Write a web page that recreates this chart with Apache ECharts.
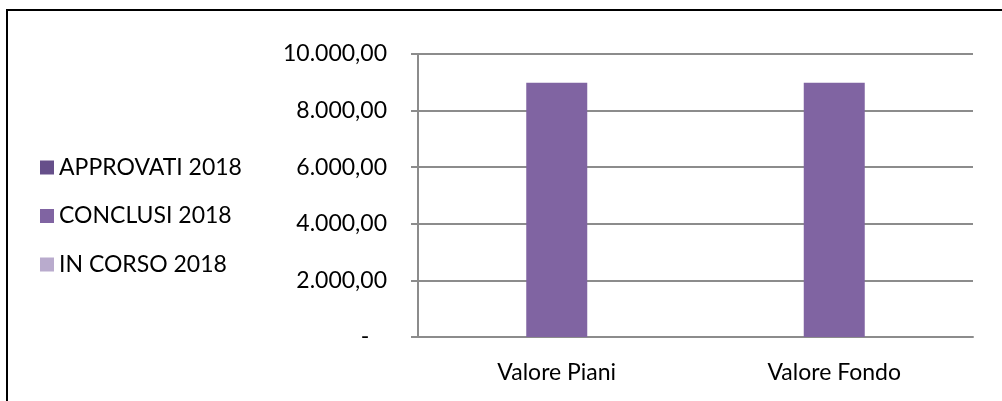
<!doctype html>
<html>
<head>
<meta charset="utf-8">
<script src="https://cdn.jsdelivr.net/npm/echarts@6/dist/echarts.min.js"></script>
<style>
    html, body { margin: 0; padding: 0; background: #fff; }
    #chart { width: 1002px; height: 401px; }
</style>
</head>
<body>
<div id="chart"></div>
<script>
// dati
var categorie = ['Valore Piani', 'Valore Fondo'];
var nomiSerie = ['APPROVATI 2018', 'CONCLUSI 2018', 'IN CORSO 2018'];
var approvati = [null, null];
var conclusi = [8980, 8980];
var inCorso = [null, null];
var colori = ['#664f8a', '#8064a2', '#b9abcd'];

function formatIt(v) {
    if (v === 0) return '-   ';
    var s = v.toFixed(2).split('.');
    var intero = s[0].replace(/\B(?=(\d{3})+(?!\d))/g, '.');
    return intero + ',' + s[1];
}

var myChart = echarts.init(document.getElementById('chart'));

var valori = [approvati, conclusi, inCorso];
var series = [];
for (var i = 0; i < nomiSerie.length; i++) {
    series.push({
        name: nomiSerie[i],
        type: 'bar',
        data: valori[i],
        barWidth: 61,
        barGap: '0%',
        itemStyle: { color: colori[i] }
    });
}

var option = {
    animation: false,
    textStyle: { fontFamily: 'Lato' },
    graphic: [{
        type: 'rect',
        shape: { x: 7, y: 10, width: 1000, height: 400 },
        style: { fill: 'none', stroke: '#000', lineWidth: 2 },
        silent: true
    }],
    legend: {
        orient: 'vertical',
        left: 40,
        top: 156,
        padding: 0,
        icon: 'rect',
        itemWidth: 14,
        itemHeight: 14,
        itemGap: 25.5,
        textStyle: { fontSize: 23, color: '#000', fontFamily: 'Lato', lineHeight: 22 },
        data: nomiSerie
    },
    grid: { left: 418, right: 29, top: 54, bottom: 64, containLabel: false },
    xAxis: {
        type: 'category',
        data: categorie,
        axisLine: { lineStyle: { color: '#8c8c8c', width: 2 } },
        axisTick: { length: 8, lineStyle: { color: '#8c8c8c', width: 2 } },
        axisLabel: { fontSize: 23, color: '#000', margin: 24, fontFamily: 'Lato' }
    },
    yAxis: {
        type: 'value',
        min: 0,
        max: 10000,
        interval: 2000,
        axisLine: { show: true, lineStyle: { color: '#8c8c8c', width: 2 } },
        axisTick: { show: true, length: 7, lineStyle: { color: '#8c8c8c', width: 2 } },
        splitLine: { lineStyle: { color: '#8c8c8c', width: 2 } },
        axisLabel: { fontSize: 23, color: '#000', margin: 31, formatter: formatIt, fontFamily: 'Lato' }
    },
    series: series
};

myChart.setOption(option);
</script>
</body>
</html>
